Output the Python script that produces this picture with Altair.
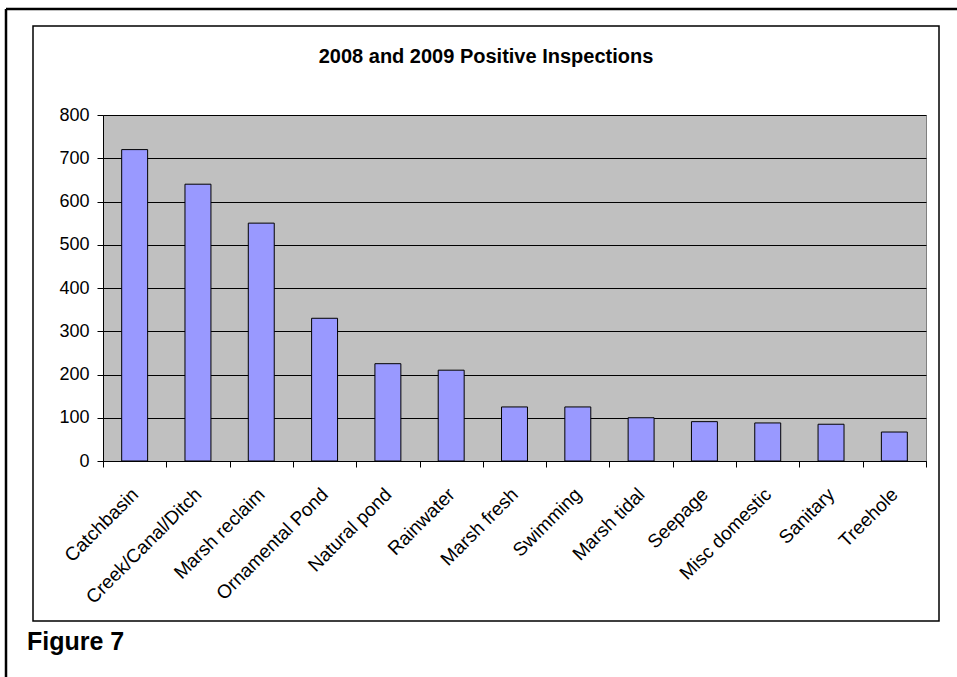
import altair as alt
import pandas as pd

# Habitat categories and positive inspection counts (2008 + 2009)
categories = [
    "Catchbasin", "Creek/Canal/Ditch", "Marsh reclaim", "Ornamental Pond",
    "Natural pond", "Rainwater", "Marsh fresh", "Swimming", "Marsh tidal",
    "Seepage", "Misc domestic", "Sanitary", "Treehole",
]
inspections = [720, 640, 550, 330, 225, 210, 125, 125, 100, 91, 88, 85, 67]
y_ticks = [0, 100, 200, 300, 400, 500, 600, 700, 800]

chart_title = "2008 and 2009 Positive Inspections"
figure_label = "Figure 7"

FONT = "Liberation Sans"
PLOT_W, PLOT_H = 823, 346

df = pd.DataFrame({"habitat": categories, "count": inspections})

bars = alt.Chart(df).mark_bar(
    color="#9999FF", stroke="black", strokeWidth=1,
    width=alt.RelativeBandSize(0.41),
).encode(
    x=alt.X(
        "habitat:N", sort=None, title=None,
        scale=alt.Scale(paddingInner=0, paddingOuter=0),
        axis=alt.Axis(
            tickBand="extent", labelAngle=315, labelAlign="right",
            labelBaseline="middle", labelPadding=24, labelLimit=400,
            labelFont=FONT, labelFontSize=19, labelColor="black",
            domainColor="black", tickColor="black", tickSize=6,
            grid=False,
        ),
    ),
    y=alt.Y(
        "count:Q", title=None,
        scale=alt.Scale(domain=[0, 800], nice=False),
        axis=alt.Axis(
            values=y_ticks, grid=True, gridColor="black", gridWidth=1,
            labelFont=FONT, labelFontSize=18, labelColor="black",
            labelPadding=8, domainColor="black", tickColor="black",
            tickSize=6,
        ),
    ),
)

# Chart title, centred over the framed chart area
title = alt.Chart(pd.DataFrame({"t": [chart_title]})).mark_text(
    font=FONT, fontSize=20, fontWeight="bold", color="black",
    align="center", baseline="alphabetic",
).encode(text="t:N", x=alt.value(383), y=alt.value(-52))

# Caption under the chart frame
caption = alt.Chart(pd.DataFrame({"t": [figure_label]})).mark_text(
    font=FONT, fontSize=25, fontWeight="bold", color="black",
    align="left", baseline="alphabetic",
).encode(text="t:N", x=alt.value(-76), y=alt.value(535))

# Thin frame around the chart object
frame = alt.Chart(pd.DataFrame({"k": [0]})).mark_rect(
    filled=False, stroke="black", strokeWidth=1.5,
).encode(
    x=alt.value(-70), x2=alt.value(836), y=alt.value(-89), y2=alt.value(506)
)

# Heavy page border along the top and left
border_top = alt.Chart(pd.DataFrame({"k": [0]})).mark_rule(
    color="black", strokeWidth=2.5
).encode(x=alt.value(-97), x2=alt.value(860), y=alt.value(-106))
border_left = alt.Chart(pd.DataFrame({"k": [0]})).mark_rule(
    color="black", strokeWidth=2.5
).encode(x=alt.value(-97), y=alt.value(-106), y2=alt.value(570))

chart = alt.layer(
    bars, title, caption, frame, border_top, border_left
).properties(
    width=PLOT_W, height=PLOT_H,
    autosize=alt.AutoSizeParams(type="none"),
    padding={"left": 103, "top": 115, "right": 31, "bottom": 216},
    background="white",
).configure_view(
    fill="#C0C0C0", stroke="#808080", strokeWidth=1,
)

chart.save("out.html", embed_options={"renderer": "svg", "actions": False})
